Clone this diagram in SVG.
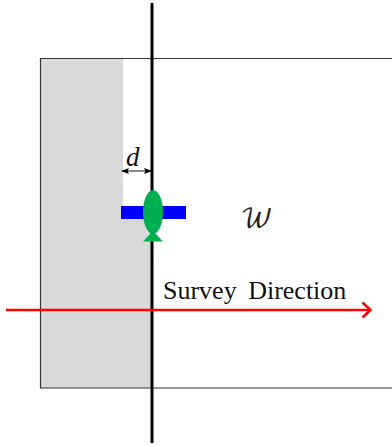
<svg xmlns="http://www.w3.org/2000/svg" width="392" height="447" viewBox="0 0 392 447">
<style>
text{font-family:"Liberation Serif","Times New Roman",serif;fill:#111}
.it{font-style:italic}
</style>
<defs>
<marker id="dh" markerWidth="8" markerHeight="7" refX="7" refY="3.5" orient="auto-start-reverse" markerUnits="userSpaceOnUse"><path d="M0 0.500L8 3.500L0 6.500L1.500 3.500Z" fill="#000"/></marker>
</defs>
<rect width="392" height="447" fill="#fff"/>
<g id="region">
<path d="M41 59H123V206H152V388H41Z" fill="#d9d9d9"/>
<path d="M392 58.500H40.500V388H392" fill="none" stroke="#333" stroke-width="1.200"/>
</g>
<g id="connectors">
<line x1="152" y1="3" x2="152" y2="443" stroke="#000" stroke-width="3"/>
<line x1="6" y1="310" x2="370" y2="310" stroke="#f00" stroke-width="2.500"/>
<path d="M362.500 302.500L370.500 310L362.500 317.500" fill="none" stroke="#f00" stroke-width="2.500"/>
<line x1="122" y1="171" x2="151" y2="171" stroke="#555" stroke-width="1.400" marker-start="url(#dh)" marker-end="url(#dh)"/>
</g>
<g id="vehicle">
<rect x="121" y="206" width="65" height="13" fill="#0000ff"/>
<path d="M153 231L163 241.500H143Z" fill="#00b050"/>
<ellipse cx="153" cy="212" rx="10" ry="22" fill="#00b050"/>
</g>
<g id="labels">
<text class="it" x="126" y="166" font-size="27">d</text>
<text x="240.500" y="227" font-size="26" style="font-family:'DejaVu Math TeX Gyre','DejaVu Serif','Liberation Serif',serif;fill:#222">𝒲</text>
<text x="163" y="299" font-size="26" word-spacing="5">Survey Direction</text>
</g>
</svg>
